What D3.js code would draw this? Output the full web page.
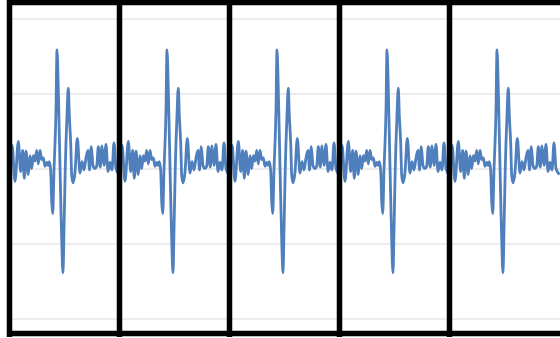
<!DOCTYPE html>
<html>
<head>
<meta charset="utf-8">
<script src="https://cdn.jsdelivr.net/npm/d3@7"></script>
<style>
  body { margin: 0; background: #fff; }
  svg { display: block; }
</style>
</head>
<body>
<script>
/* global d3 */

var width = 560,
    height = 338;

// one beat, time in ms from the start of the panel
var beatTime = [0, 25, 55, 88, 112, 132, 148, 165, 188, 205, 222, 238, 255, 272, 288, 305, 322, 338,
                355, 372, 388, 398, 412, 422, 432, 445, 465, 475, 488, 505, 522, 535, 545, 558, 575,
                588, 598, 612, 622, 635, 655, 678, 705, 725, 745, 765, 785, 800, 818, 835, 855, 872,
                888, 908, 925, 945, 965, 985, 1005, 1025, 1045, 1065, 1100];
// signal value for each sample
var beatValue = [-8, 31, -17, 36, -4, 24, -13, 23, -8, 17, 0, 17, 10, 24, 6, 24, 12, 14,
                 3, 8, 4, 9, -3, -44, -60, -2, 78, 158, 105, 2, -95, -139, -82, 2, 71, 107,
                 71, 34, -9, -19, -5, 40, -6, 9, -2, 14, 24, -2, 29, 4, 0, 3,
                 29, 2, 30, 4, 32, -4, 8, -2, 34, 0, -8];
var beats = 5,
    beatLength = 1100;
var yTicks = [-200, -100, 0, 100, 200];

var svg = d3.select("body")
    .append("svg")
    .attr("width", width)
    .attr("height", height);

var x = d3.scaleLinear()
    .domain([0, beats * beatLength])
    .range([9.5, 559.5]);

var y = d3.scaleLinear()
    .domain([-200, 200])
    .range([318.5, 18.5]);

// repeat the beat for every panel
var data = [];
d3.range(beats).forEach(function(k){
  beatTime.forEach(function(t, i){
    if (k > 0 && i == 0) return;
    data.push({t: t + k * beatLength, v: beatValue[i]});
  });
});

//gridlines
svg.append("g")
    .attr("transform", "translate(9.5,0)")
    .call(d3.axisLeft(y).tickValues(yTicks).tickSize(-(width - 9.5)).tickFormat(""))
    .call(function(g){ g.select(".domain").remove(); })
    .selectAll("line")
    .attr("stroke", "#d9d9d9")
    .attr("stroke-width", 1);

var line = d3.line()
    .x(function(d){ return x(d.t); })
    .y(function(d){ return y(d.v); })
    .curve(d3.curveMonotoneX);

svg.append("path")
    .datum(data)
    .attr("fill", "none")
    .attr("stroke", "#4f7fbc")
    .attr("stroke-width", 2.8)
    .attr("stroke-linejoin", "round")
    .attr("d", line);

//black frames round each beat
svg.selectAll(".divider")
    .data(d3.range(beats))
    .enter()
    .append("line")
    .attr("class", "divider")
    .attr("x1", function(d){ return x(d * beatLength); })
    .attr("x2", function(d){ return x(d * beatLength); })
    .attr("y1", 0)
    .attr("y2", 337)
    .attr("stroke", "#000")
    .attr("stroke-width", 5.5);

svg.selectAll(".edge")
    .data([2.5, 333.5])
    .enter()
    .append("line")
    .attr("class", "edge")
    .attr("x1", 7)
    .attr("x2", width)
    .attr("y1", function(d){ return d; })
    .attr("y2", function(d){ return d; })
    .attr("stroke", "#000")
    .attr("stroke-width", 5.5);
</script>
</body>
</html>
